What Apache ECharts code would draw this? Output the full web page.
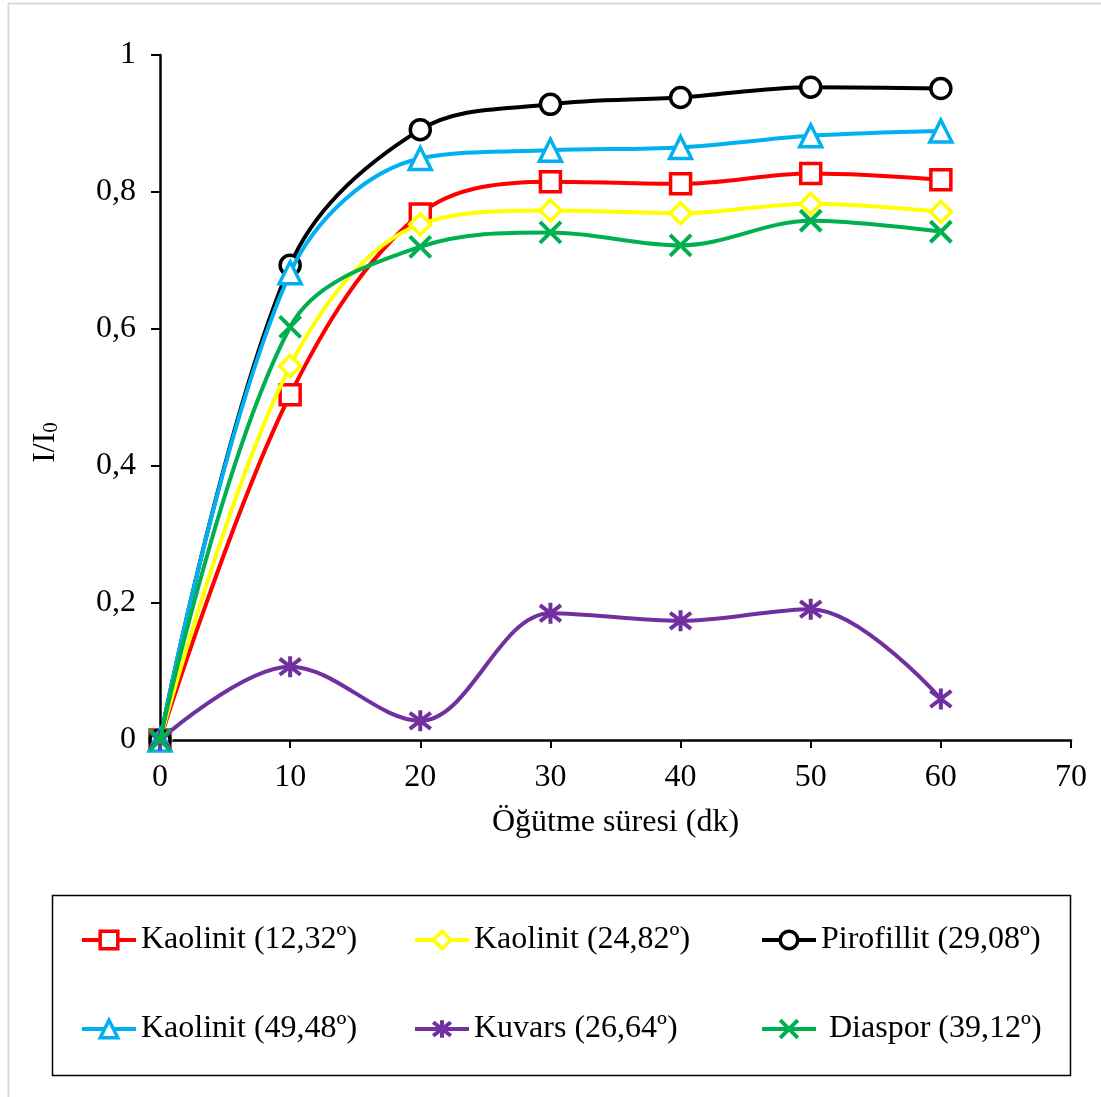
<!DOCTYPE html>
<html>
<head>
<meta charset="utf-8">
<script src="https://cdn.jsdelivr.net/npm/echarts@6/dist/echarts.min.js"></script>
<style>
html,body{margin:0;padding:0;background:#fff;}
#c{width:1101px;height:1097px;}
</style>
</head>
<body>
<div id="c"></div>
<script>
var xValues = [0, 10, 20, 30, 40, 50, 60];
var xTicks = [0, 10, 20, 30, 40, 50, 60, 70];
var yTicks = [0, 0.2, 0.4, 0.6, 0.8, 1];

var seriesNames = ['Kaolinit (12,32º)', 'Kaolinit (24,82º)', 'Pirofillit (29,08º)', 'Kaolinit (49,48º)', 'Kuvars (26,64º)', 'Diaspor (39,12º)'];
var kaolinit1232 = [0, 0.504, 0.768, 0.815, 0.812, 0.827, 0.818];
var kaolinit2482 = [0, 0.546, 0.753, 0.773, 0.769, 0.783, 0.771];
var pirofillit = [0, 0.693, 0.891, 0.928, 0.938, 0.953, 0.951];
var kaolinit4948 = [0, 0.682, 0.849, 0.861, 0.865, 0.882, 0.889];
var kuvars = [0, 0.107, 0.028, 0.185, 0.174, 0.191, 0.060];
var diaspor = [0, 0.603, 0.720, 0.741, 0.722, 0.758, 0.742];

var colors = ['#FF0000', '#FFFF00', '#000000', '#00B0F0', '#7030A0', '#00B050'];
var FONT = '"Liberation Serif", "Times New Roman", serif';
var FS = 32;

function pairs(arr) { return xValues.map(function (x, i) { return [x, arr[i]]; }); }

var allData = [kaolinit1232, kaolinit2482, pirofillit, kaolinit4948, kuvars, diaspor];
var symbols = ['rect', 'diamond', 'circle', 'triangle',
  'path://M0,0L10,10M10,0L0,10M5,-1.5L5,11.5', 'path://M0,0L10,10M10,0L0,10'];
var sizes = [20, 21, 20, 22, 21, 21];

var series = allData.map(function (d, i) {
  var isPath = i >= 4;
  return {
    name: seriesNames[i],
    type: 'line',
    data: pairs(d),
    smooth: 0.35,
    symbol: symbols[i],
    symbolSize: sizes[i],
    showAllSymbol: true,
    lineStyle: { color: colors[i], width: 4 },
    itemStyle: isPath ? { color: colors[i], borderColor: colors[i], borderWidth: 4 } : { color: '#ffffff', borderColor: colors[i], borderWidth: 3.5 },
    emphasis: { disabled: true },
    z: 2 + i
  };
});

var legendPos = [
  { left: 80, top: 924 }, { left: 413, top: 924 }, { left: 760, top: 924 },
  { left: 80, top: 1013 }, { left: 413, top: 1013 }, { left: 760, top: 1013 }
];
var legends = seriesNames.map(function (n, i) {
  return {
    data: [n],
    left: legendPos[i].left,
    top: legendPos[i].top,
    padding: 0,
    itemWidth: 54,
    itemHeight: 22,
    selectedMode: false,
    lineStyle: { width: 4 },
    itemStyle: { borderWidth: i >= 4 ? 4 : 3.5 },
    textStyle: { fontFamily: FONT, fontSize: FS, color: '#000', padding: i === 5 ? [0, 0, 0, 8] : 0 }
  };
});

var option = {
  animation: false,
  backgroundColor: '#fff',
  grid: { left: 160, top: 55, right: 30, bottom: 357, containLabel: false },
  xAxis: {
    type: 'value', min: xTicks[0], max: xTicks[xTicks.length - 1], interval: 10,
    name: 'Öğütme süresi (dk)', nameLocation: 'middle', nameGap: 67,
    nameTextStyle: { fontFamily: FONT, fontSize: FS, color: '#000' },
    axisLine: { show: true, onZero: false, lineStyle: { color: '#000', width: 2.5 } },
    axisTick: { show: true, inside: false, length: 8, lineStyle: { color: '#000', width: 2 } },
    axisLabel: { fontFamily: FONT, fontSize: FS, color: '#000', margin: 22 },
    splitLine: { show: false }
  },
  yAxis: {
    type: 'value', min: yTicks[0], max: yTicks[yTicks.length - 1], interval: 0.2,
    name: '{a|I/I}{b|0}', nameLocation: 'middle', nameGap: 98, nameRotate: 90,
    nameTextStyle: {
      fontFamily: FONT, fontSize: FS, color: '#000',
      padding: [0, 90, 0, 0],
      rich: {
        a: { fontFamily: FONT, fontSize: FS, color: '#000' },
        b: { fontFamily: FONT, fontSize: 21, color: '#000', padding: [12, 0, 0, 0] }
      }
    },
    axisLine: { show: true, onZero: false, lineStyle: { color: '#000', width: 2.5 } },
    axisTick: { show: true, inside: false, length: 9, lineStyle: { color: '#000', width: 2 } },
    axisLabel: {
      fontFamily: FONT, fontSize: FS, color: '#000', margin: 24,
      formatter: function (v) { return String(Math.round(v * 10) / 10).replace('.', ','); }
    },
    splitLine: { show: false }
  },
  legend: legends,
  graphic: [
    { type: 'rect', shape: { x: 8.5, y: 3.5, width: 1100, height: 1100 }, style: { fill: 'none', stroke: '#d9d9d9', lineWidth: 2 }, silent: true, z: 0 },
    { type: 'rect', shape: { x: 52.5, y: 895.5, width: 1018, height: 180 }, style: { fill: 'none', stroke: '#000', lineWidth: 1.5 }, silent: true, z: 0 }
  ],
  series: series
};

var chart = echarts.init(document.getElementById('c'), null, { renderer: 'canvas' });
chart.setOption(option);
</script>
</body>
</html>
